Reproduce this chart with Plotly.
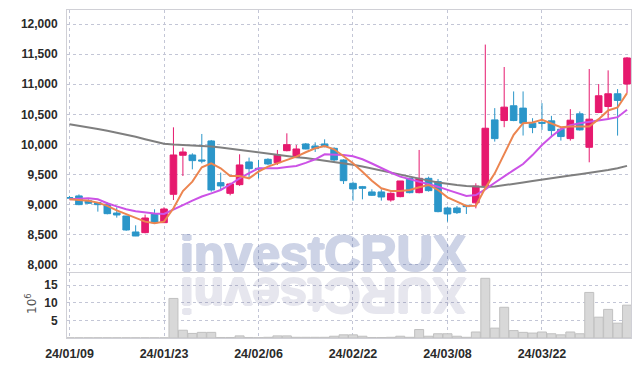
import plotly.graph_objects as go

dates = ["24/01/09","24/01/10","24/01/11","24/01/12","24/01/15","24/01/16","24/01/17","24/01/18","24/01/19","24/01/22",
         "24/01/23","24/01/24","24/01/25","24/01/26","24/01/29","24/01/30","24/01/31","24/02/01","24/02/02","24/02/05",
         "24/02/06","24/02/07","24/02/08","24/02/13","24/02/14","24/02/15","24/02/16","24/02/19","24/02/20","24/02/21",
         "24/02/22","24/02/23","24/02/26","24/02/27","24/02/28","24/02/29","24/03/04","24/03/05","24/03/06","24/03/07",
         "24/03/08","24/03/11","24/03/12","24/03/13","24/03/14","24/03/15","24/03/18","24/03/19","24/03/20","24/03/21",
         "24/03/22","24/03/25","24/03/26","24/03/27","24/03/28","24/03/29","24/04/01","24/04/02","24/04/03","24/04/04"]

open_ = [9112,9140,9060,9028,9000,8855,8805,8539,8528,8839,
         8694,9167,9817,9822,9739,10056,9361,9183,9328,9706,
         9600,9750,9694,9894,9794,10006,9972,10006,9933,9739,
         9350,9294,9206,9206,9072,9128,9433,9194,9433,9378,
         8939,8939,8983,9025,9309,10407,10396,10642,10603,10352,
         10363,10391,10251,10095,10508,9950,10530,10630,10842,11004]
high = [9140,9165,9083,9030,9033,8950,8805,8650,8828,8917,
        8950,10283,9944,9850,10172,10072,9528,9361,9833,9778,
        9740,9767,9906,10183,9989,10022,10033,10083,9950,9750,
        9378,9306,9250,9250,9200,9389,9444,9906,9461,9422,
        8961,8972,8990,9350,11662,10603,11288,10881,10881,10435,
        10686,10474,10268,10586,10547,11255,11004,11232,10920,11455]
low = [9085,8985,9006,8878,8833,8778,8560,8470,8517,8683,
       8694,9072,9472,9583,9683,9211,9239,9150,9306,9433,
       9430,9656,9656,9883,9778,9917,9872,9950,9711,9339,
       9061,9083,9139,9061,9044,9117,9183,9183,9211,8867,
       8711,8839,8839,8933,9293,10045,10285,10385,10146,10185,
       10240,10118,10062,10062,10229,9700,10519,10419,10145,10853]
close = [9105,8995,9017,8994,8844,8822,8572,8472,8772,8694,
         8922,9822,9872,9728,9722,9239,9306,9339,9656,9594,
         9590,9672,9822,9994,9922,9922,9928,9961,9739,9394,
         9256,9267,9150,9122,9183,9389,9194,9433,9228,8878,
         8839,8861,8961,9304,10268,10095,10619,10396,10352,10279,
         10352,10229,10129,10402,10240,10419,10809,10842,10731,11439]

ma_short = [9083,9075,9061,9028,8975,8900,8839,8767,8711,8683,
            8711,8933,9222,9378,9617,9683,9600,9472,9472,9433,
            9544,9628,9683,9750,9794,9867,9933,9972,9917,9800,
            9683,9544,9394,9267,9222,9222,9239,9283,9322,9239,
            9117,9044,8972,8975,9270,9516,9850,10157,10352,10363,
            10407,10341,10285,10296,10296,10296,10419,10564,10614,10853]
ma_mid = [9083,9090,9100,9083,9017,8965,8917,8885,8861,8845,
          8839,8906,8985,9061,9130,9183,9239,9330,9433,9520,
          9600,9600,9600,9620,9639,9690,9750,9833,9833,9822,
          9800,9750,9680,9600,9530,9461,9420,9378,9335,9294,
          9240,9183,9139,9155,9250,9360,9471,9570,9672,9820,
          9989,10130,10251,10320,10352,10375,10391,10420,10452,10575]
ma_long = [10333,10310,10285,10255,10225,10195,10160,10125,10085,10045,
           10010,9995,9990,9985,9980,9965,9945,9925,9900,9880,
           9860,9835,9815,9800,9785,9770,9750,9730,9710,9685,
           9660,9630,9595,9560,9525,9490,9455,9425,9395,9365,
           9340,9320,9305,9295,9290,9295,9315,9340,9365,9390,
           9415,9440,9460,9480,9500,9520,9545,9570,9600,9640]

volume_m = [0.05,0.05,0.05,0.05,0.05,0.05,0.05,0.05,0.05,0.05,
            0.05,11.2,2.2,1.3,1.6,1.6,0.15,0.15,0.6,0.15,
            0.1,0.2,0.6,0.6,0.2,0.2,0.2,0.2,0.5,0.9,
            0.9,0.5,0.15,0.15,0.2,0.5,0.2,2.4,0.5,1.2,
            1.2,0.5,0.2,1.7,16.9,2.8,8.7,2.1,1.6,1.4,
            1.7,1.2,0.9,1.7,1.2,12.9,5.9,8.1,4.2,9.3]

price_ticks = [8000,8500,9000,9500,10000,10500,11000,11500,12000]
volume_ticks = [5,10,15]
date_ticks = [dates[i] for i in range(0, len(dates), 10)]

UP = "#e6196e"
DOWN = "#2b96c9"
GRID = "#c3c6d6"
AXLINE = "#d0d0d6"
FAM = "Liberation Sans, Arial, sans-serif"
TICKFONT = dict(family=FAM, size=12, color="#2a2a2a", weight="bold")

fig = go.Figure()
fig.add_trace(go.Candlestick(
    x=dates, open=open_, high=high, low=low, close=close,
    increasing=dict(line=dict(color=UP, width=1), fillcolor=UP),
    decreasing=dict(line=dict(color=DOWN, width=1), fillcolor=DOWN),
    whiskerwidth=0, xaxis="x", yaxis="y", showlegend=False))
fig.add_trace(go.Scatter(x=dates, y=ma_long, mode="lines", line=dict(color="#7f7f7f", width=2), xaxis="x", yaxis="y", showlegend=False))
fig.add_trace(go.Scatter(x=dates, y=ma_mid, mode="lines", line=dict(color="#cc52e6", width=2), xaxis="x", yaxis="y", showlegend=False))
fig.add_trace(go.Scatter(x=dates, y=ma_short, mode="lines", line=dict(color="#ec8550", width=2), xaxis="x", yaxis="y", showlegend=False))
fig.add_trace(go.Bar(x=dates, y=volume_m, marker=dict(color="#d8d8d8", line=dict(color="#c0c0c0", width=1)),
                     xaxis="x2", yaxis="y2", showlegend=False))

# plot area in pixels: x 67..631, y 10..338
L, R, T, B = 67, 631, 10, 338
W, H = R - L, B - T
def px(x):
    return (x - L) / W
def py(y):
    return (B - y) / H

xrange_ = [-0.265, 59.42]
common_x = dict(type="category", range=xrange_, tickvals=date_ticks, showgrid=True, gridcolor=GRID,
                griddash="dot", gridwidth=1, zeroline=False, ticks="", showline=True, linecolor=AXLINE,
                linewidth=1, mirror=True, automargin=False)

fig.update_layout(
    width=639, height=366,
    margin=dict(l=L, r=639 - R, t=T, b=366 - B),
    paper_bgcolor="white", plot_bgcolor="white",
    boxgap=0.3, boxgroupgap=0, bargap=0.05,
    xaxis=dict(**common_x, domain=[0, 1], anchor="y", showticklabels=False, rangeslider=dict(visible=False)),
    xaxis2=dict(**common_x, domain=[0, 1], anchor="y2", matches="x", showticklabels=True,
                tickfont=dict(family=FAM, size=12.5, color="#2a2a2a", weight="bold"),
                ticklabelstandoff=4),
    yaxis=dict(domain=[py(272), 1], range=[7872, 12238], tickvals=price_ticks, tickformat=",",
               showgrid=True, gridcolor=GRID, griddash="dot", zeroline=False, ticks="", automargin=False,
               showline=True, linecolor=AXLINE, mirror=True, tickfont=TICKFONT, ticklabelstandoff=6),
    yaxis2=dict(domain=[0, py(273)], range=[0, 18.4], tickvals=volume_ticks, automargin=False,
                showgrid=True, gridcolor=GRID, griddash="dot", zeroline=False, ticks="",
                showline=True, linecolor=AXLINE, mirror=True, tickfont=TICKFONT, ticklabelstandoff=6),
    hovermode=False,
)

# watermark and its reflection (group opacity so the thickening shadow blends evenly)
wm_text = "investCRUX"
main_c = "rgb(60,85,160)"
refl_c = "rgb(60,60,120)"
def heavy(c):
    return f"1.2px 0 0 {c}, -1.2px 0 0 {c}, 0 1px 0 {c}, 0 -1px 0 {c}"
fig.add_annotation(text=wm_text, xref="paper", yref="paper", x=px(178), y=py(254.5), xanchor="left", yanchor="middle",
                   showarrow=False, opacity=0.25,
                   font=dict(family=FAM, size=50, weight="bold", color=main_c, shadow=heavy(main_c)))
fig.add_annotation(text=wm_text[::-1], xref="paper", yref="paper", x=px(178), y=py(295), xanchor="left",
                   yanchor="middle", textangle=180, showarrow=False, opacity=0.12,
                   font=dict(family=FAM, size=50, weight="bold", color=refl_c, shadow=heavy(refl_c)))

fig.add_annotation(text="10<sup>6</sup>", xref="paper", yref="paper", x=px(31), y=py(304), textangle=-90,
                   showarrow=False, xanchor="center", yanchor="middle",
                   font=dict(family="DejaVu Sans, sans-serif", size=12, color="#555"))

fig.write_html("out.html")
